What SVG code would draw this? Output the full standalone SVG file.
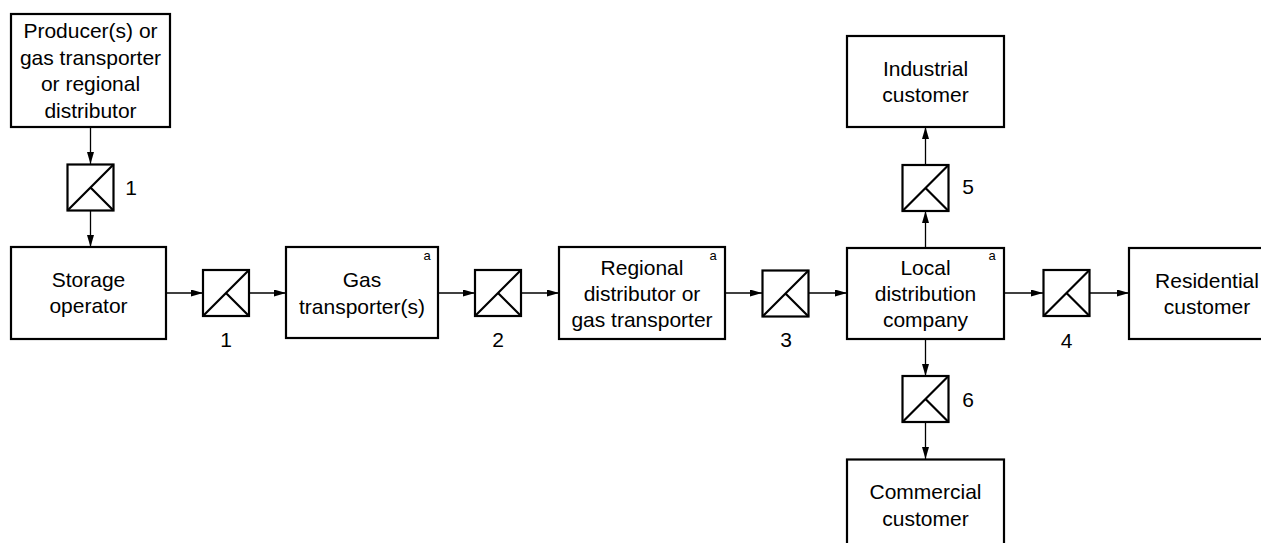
<svg xmlns="http://www.w3.org/2000/svg" width="1261" height="543" viewBox="0 0 1261 543">
<style>
.box{fill:#fff;stroke:#000;stroke-width:2.2}
.mtr{fill:#fff;stroke:#000;stroke-width:2.2}
.t{font-family:"Liberation Sans",Arial,sans-serif;font-size:21px;fill:#000;text-anchor:middle}
.sup{font-family:"Liberation Sans",Arial,sans-serif;font-size:13px;fill:#000;text-anchor:middle}
.c{stroke:#000;stroke-width:1.3;fill:none;marker-end:url(#ah)}
</style>
<defs>
<marker id="ah" viewBox="0 0 12 7" refX="12" refY="3.5" markerWidth="12" markerHeight="7" markerUnits="userSpaceOnUse" orient="auto">
<path d="M0,0 L12,3.5 L0,7 Z" fill="#000"/>
</marker>
<g id="meter">
<rect class="mtr" x="0" y="0" width="46" height="46"/>
<path d="M0,46 L46,0 M23,23 L46,46" stroke="#000" stroke-width="2.2" fill="none"/>
</g>
</defs>
<g id="connectors">
<line class="c" x1="90.5" y1="127" x2="90.5" y2="164"/>
<line class="c" x1="90.5" y1="211" x2="90.5" y2="247"/>
<line class="c" x1="166" y1="293" x2="203" y2="293"/>
<line class="c" x1="249" y1="293" x2="286" y2="293"/>
<line class="c" x1="438" y1="293" x2="475" y2="293"/>
<line class="c" x1="521" y1="293" x2="559" y2="293"/>
<line class="c" x1="725" y1="293" x2="762" y2="293"/>
<line class="c" x1="808" y1="293" x2="847" y2="293"/>
<line class="c" x1="1004" y1="293" x2="1043" y2="293"/>
<line class="c" x1="1089" y1="293" x2="1129" y2="293"/>
<line class="c" x1="925.5" y1="248" x2="925.5" y2="211"/>
<line class="c" x1="925.5" y1="165" x2="925.5" y2="127"/>
<line class="c" x1="925.5" y1="339" x2="925.5" y2="376"/>
<line class="c" x1="925.5" y1="422" x2="925.5" y2="459"/>
</g>
<g id="producer">
<rect class="box" x="11" y="14" width="159" height="113"/>
<text class="t" x="90.5" y="38">Producer(s) or</text>
<text class="t" x="90.5" y="64.5">gas transporter</text>
<text class="t" x="90.5" y="91">or regional</text>
<text class="t" x="90.5" y="117.5">distributor</text>
</g>
<g id="meter1a">
<use href="#meter" x="67.5" y="164.5"/>
<text class="t" x="131" y="195">1</text>
</g>
<g id="storage">
<rect class="box" x="11" y="247" width="155" height="92"/>
<text class="t" x="88.5" y="287">Storage</text>
<text class="t" x="88.5" y="313">operator</text>
</g>
<g id="meter1b">
<use href="#meter" x="203" y="270"/>
<text class="t" x="226" y="347">1</text>
</g>
<g id="gas">
<rect class="box" x="286" y="247" width="152" height="91"/>
<text class="t" x="362" y="287">Gas</text>
<text class="t" x="362" y="313.5">transporter(s)</text>
<text class="sup" x="427" y="260">a</text>
</g>
<g id="meter2">
<use href="#meter" x="475" y="270"/>
<text class="t" x="498" y="347">2</text>
</g>
<g id="regional">
<rect class="box" x="559" y="247" width="166" height="92"/>
<text class="t" x="642" y="274.5">Regional</text>
<text class="t" x="642" y="301">distributor or</text>
<text class="t" x="642" y="327">gas transporter</text>
<text class="sup" x="713" y="260">a</text>
</g>
<g id="meter3">
<use href="#meter" x="762.5" y="270.5"/>
<text class="t" x="786" y="347">3</text>
</g>
<g id="local">
<rect class="box" x="847" y="248" width="157" height="91"/>
<text class="t" x="925.5" y="274.5">Local</text>
<text class="t" x="925.5" y="300.5">distribution</text>
<text class="t" x="925.5" y="326.5">company</text>
<text class="sup" x="992" y="260">a</text>
</g>
<g id="meter4">
<use href="#meter" x="1043.5" y="270"/>
<text class="t" x="1066.5" y="348">4</text>
</g>
<g id="residential">
<rect class="box" x="1129" y="248" width="157" height="91"/>
<text class="t" x="1207" y="288">Residential</text>
<text class="t" x="1207" y="314">customer</text>
</g>
<g id="meter5">
<use href="#meter" x="902.5" y="165"/>
<text class="t" x="968" y="194">5</text>
</g>
<g id="industrial">
<rect class="box" x="847" y="36" width="157" height="91"/>
<text class="t" x="925.5" y="76">Industrial</text>
<text class="t" x="925.5" y="102">customer</text>
</g>
<g id="meter6">
<use href="#meter" x="902.5" y="376"/>
<text class="t" x="968" y="407">6</text>
</g>
<g id="commercial">
<rect class="box" x="847" y="459.5" width="157" height="91"/>
<text class="t" x="925.5" y="499">Commercial</text>
<text class="t" x="925.5" y="525.5">customer</text>
</g>
</svg>
